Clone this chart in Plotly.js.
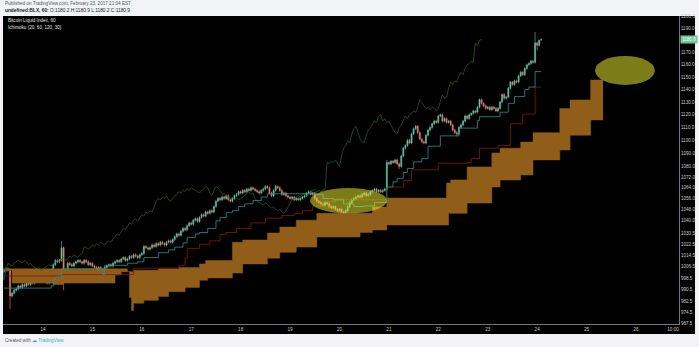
<!DOCTYPE html>
<html><head><meta charset="utf-8">
<script src="https://cdn.plot.ly/plotly-3.0.1.min.js"></script>
<style>html,body{margin:0;padding:0;background:#f1f3f6;overflow:hidden}#chart{width:699px;height:347px}</style>
</head><body><div id="chart"></div>
<script>
// time axis: hours since 2017-02-13 00:00, hourly candles (BLX, 60)
const firstHour = 5;
const opens = [
1003,1004,1005,1004,986,988,990,991,993,992,
994,993,995,994,996,995,997,998,996,999,
998,996,995,997,999,1008,1011,1010,1011,1020,
997,1004,1009,1008,1007,1009,1010,1011,1010,1009,
1011,1010,1008,1009,1007,1006,1005,1006,1004,1005,
1006,1007,1008,1007,1009,1010,1011,1010,1012,1013,
1011,1012,1014,1013,1015,1014,1013,1015,1016,1021,
1020,1019,1020,1022,1021,1023,1022,1024,1023,1022,
1024,1025,1024,1026,1028,1030,1029,1032,1034,1033,
1036,1038,1037,1040,1041,1039,1042,1044,1043,1046,
1045,1047,1046,1050,1054,1056,1055,1057,1056,1058,
1055,1054,1056,1058,1059,1061,1060,1062,1061,1063,
1062,1064,1063,1062,1061,1060,1062,1063,1065,1064,
1060,1058,1062,1065,1064,1062,1059,1060,1058,1057,
1056,1057,1055,1056,1055,1056,1057,1058,1060,1061,
1059,1060,1056,1054,1053,1052,1051,1053,1052,1050,
1049,1050,1048,1047,1048,1046,1045,1047,1050,1053,
1055,1056,1057,1058,1057,1059,1060,1058,1059,1061,
1062,1063,1061,1062,1061,1062,1063,1083,1082,1084,
1083,1085,1082,1080,1088,1094,1096,1100,1098,1105,
1109,1111,1106,1101,1099,1098,1104,1108,1110,1113,
1115,1114,1119,1120,1115,1117,1114,1115,1112,1108,
1106,1105,1110,1112,1115,1119,1117,1120,1121,1123,
1122,1126,1132,1129,1127,1125,1126,1124,1126,1125,
1123,1125,1130,1136,1133,1134,1141,1146,1144,1147,
1146,1151,1154,1152,1157,1160,1161,1163,1162,1178,
1176,1180.2];
const highs = [
1005,1006,1006,1005,989,991,992,994,994,995,
995,996,996,997,997,998,999,999,1000,1000,
999,997,998,1000,1009,1012,1012,1012,1025,1021,
1005,1010,1010,1009,1010,1011,1012,1012,1011,1012,
1012,1011,1010,1010,1008,1007,1007,1007,1006,1007,
1008,1009,1009,1010,1011,1012,1012,1013,1014,1014,
1013,1015,1015,1016,1016,1015,1016,1017,1022,1022,
1021,1021,1023,1023,1024,1024,1025,1025,1024,1025,
1026,1026,1027,1029,1031,1031,1033,1035,1035,1037,
1039,1039,1041,1042,1042,1043,1045,1045,1047,1047,
1048,1048,1051,1055,1057,1057,1058,1058,1059,1059,
1056,1057,1059,1060,1062,1062,1063,1063,1064,1064,
1065,1065,1064,1063,1062,1063,1064,1066,1066,1065,
1061,1063,1066,1066,1065,1063,1061,1061,1059,1058,
1058,1058,1057,1057,1057,1058,1059,1061,1062,1062,
1061,1061,1057,1055,1054,1053,1054,1054,1053,1051,
1051,1051,1049,1049,1049,1047,1048,1051,1054,1056,
1057,1058,1059,1059,1060,1061,1061,1060,1062,1063,
1064,1064,1063,1063,1063,1064,1085,1084,1085,1085,
1086,1086,1083,1089,1095,1097,1101,1101,1106,1110,
1112,1112,1107,1102,1100,1105,1109,1111,1114,1116,
1116,1120,1121,1121,1118,1118,1116,1116,1113,1109,
1107,1111,1113,1116,1120,1120,1121,1122,1124,1124,
1127,1133,1133,1130,1128,1127,1127,1127,1127,1126,
1126,1131,1137,1137,1135,1142,1147,1147,1148,1148,
1152,1155,1155,1158,1161,1162,1164,1164,1187,1179,
1180.5,1180.9];
const lows = [
1002,1003,1003,977,985,987,989,990,991,991,
992,992,993,993,994,994,996,995,995,997,
995,994,994,996,998,1007,1009,1009,1010,990,
996,1003,1007,1006,1006,1008,1009,1009,1008,1008,
1009,1007,1007,1006,1005,1004,1004,1003,1003,1004,
1005,1006,1006,1006,1008,1009,1009,1009,1011,1010,
1010,1011,1012,1012,1013,1012,1012,1014,1015,1019,
1018,1018,1019,1020,1020,1021,1021,1022,1021,1021,
1023,1023,1023,1025,1027,1028,1028,1031,1032,1032,
1035,1036,1036,1039,1038,1038,1041,1042,1042,1044,
1044,1045,1045,1049,1053,1054,1054,1055,1055,1054,
1053,1053,1055,1057,1058,1059,1059,1060,1060,1061,
1061,1062,1061,1060,1059,1059,1061,1062,1063,1059,
1057,1057,1061,1063,1061,1058,1058,1057,1056,1055,
1055,1054,1054,1054,1054,1055,1056,1057,1059,1058,
1058,1055,1053,1052,1051,1050,1050,1051,1049,1048,
1048,1047,1046,1046,1045,1044,1044,1046,1049,1052,
1054,1055,1056,1056,1056,1058,1057,1057,1058,1060,
1061,1060,1060,1060,1060,1061,1062,1081,1081,1082,
1082,1081,1078,1079,1087,1093,1095,1097,1097,1104,
1108,1105,1100,1098,1097,1097,1103,1107,1109,1112,
1113,1113,1118,1114,1114,1113,1113,1111,1107,1105,
1103,1104,1109,1111,1114,1116,1116,1119,1120,1121,
1121,1125,1128,1126,1124,1124,1123,1123,1124,1122,
1122,1124,1129,1132,1132,1133,1140,1143,1143,1145,
1145,1150,1151,1151,1156,1159,1160,1161,1161,1172,
1175,1180.2];
const closes = [
1004,1005,1004,986,988,990,991,993,992,994,
993,995,994,996,995,997,998,996,999,998,
996,995,997,999,1008,1011,1010,1011,1020,997,
1004,1009,1008,1007,1009,1010,1011,1010,1009,1011,
1010,1008,1009,1007,1006,1005,1006,1004,1005,1006,
1007,1008,1007,1009,1010,1011,1010,1012,1013,1011,
1012,1014,1013,1015,1014,1013,1015,1016,1021,1020,
1019,1020,1022,1021,1023,1022,1024,1023,1022,1024,
1025,1024,1026,1028,1030,1029,1032,1034,1033,1036,
1038,1037,1040,1041,1039,1042,1044,1043,1046,1045,
1047,1046,1050,1054,1056,1055,1057,1056,1058,1055,
1054,1056,1058,1059,1061,1060,1062,1061,1063,1062,
1064,1063,1062,1061,1060,1062,1063,1065,1064,1060,
1058,1062,1065,1064,1062,1059,1060,1058,1057,1056,
1057,1055,1056,1055,1056,1057,1058,1060,1061,1059,
1060,1056,1054,1053,1052,1051,1053,1052,1050,1049,
1050,1048,1047,1048,1046,1045,1047,1050,1053,1055,
1056,1057,1058,1057,1059,1060,1058,1059,1061,1062,
1063,1061,1062,1061,1062,1063,1083,1082,1084,1083,
1085,1082,1080,1088,1094,1096,1100,1098,1105,1109,
1111,1106,1101,1099,1098,1104,1108,1110,1113,1115,
1114,1119,1120,1115,1117,1114,1115,1112,1108,1106,
1105,1110,1112,1115,1119,1117,1120,1121,1123,1122,
1126,1132,1129,1127,1125,1126,1124,1126,1125,1123,
1125,1130,1136,1133,1134,1141,1146,1144,1147,1146,
1151,1154,1152,1157,1160,1161,1163,1162,1178,1176,
1180.2,1180.9];

// Ichimoku (20, 60, 120, 30) lines, read as step breakpoints (hour, price)
const tenkanHours  = [5,28,29,30,33,53,54,65,70,73,80,85,88,92,94,98,100,104,108,110,113,116,119,122,126,130,133,155,157,160,165,170,175,180,185,191,194,196,199,201,204,208,211,217,226,235,236,246,250,253,258,260,263,266];
const tenkanValues = [991.5,993,997.5,999,1005,1001,1007.5,1009,1010,1013,1016.5,1018.5,1020.5,1023.5,1027.5,1030,1031,1034,1039.5,1042,1045.5,1047,1050,1052,1054.5,1057,1059.5,1060,1059,1056,1055,1052,1050,1050.5,1053,1064.5,1068.5,1071,1075.5,1078.5,1083.5,1086,1095.5,1103.5,1109.5,1115.5,1118.5,1122,1129,1134.5,1140,1142,1154.5,1154.5];
const kijunHours  = [5,33,68,90,93,94,100,105,110,113,118,125,132,140,146,150,155,160,166,170,191,199,203,216,230,232,236,245,251,257,263,266];
const kijunValues = [1000,1001,1005.5,1007.5,1012.5,1019.5,1022.5,1025,1029.5,1031,1034,1038,1041.5,1043.5,1045,1047,1050.5,1053.5,1055.5,1055,1064.5,1069.5,1077.5,1082.5,1083,1086,1094,1096,1113,1120.5,1142,1142];
const spanAHours  = [4,65,68,80,90,100,103,116,121,133,139,147,157,184,191,220,222,230,242,246,256,262,275,280,290,296];
const spanAValues = [1005,1003,1004,1005,1006,1008.5,1011,1024,1025.6,1030.7,1035,1040,1045,1049.7,1056.3,1067.5,1069.8,1079.7,1090.3,1094,1098.7,1106,1125,1131.7,1147.7,1147.7];
const spanBHours  = [4,9,29,34,59,62,65,66,67,68,73,80,85,93,100,104,116,121,133,139,147,157,178,184,191,221,230,242,246,256,262,275,280,290,296];
const spanBValues = [1004,995,994,995,1000.7,1003,1003,985,976,981,983,985.6,989,992,997,998.6,1002,1008.5,1012.6,1016.8,1020.5,1027.8,1031,1032.9,1036.5,1045,1052.6,1064.5,1069.8,1073.6,1085,1092.6,1104,1115.9,1115.9];
const laggingShift = 29;

// axes
const dayTickHours = [24,48,72,96,120,144,168,192,216,240,264,288,312,330];
const dayTickLabels = ['14','15','16','17','18','19','20','21','22','23','24','25','26','10:00'];
const priceTicks = [1200,1190,1170,1160,1150,1140,1130,1120,1110,1100,1090,1080,1072,1064,1056,1048,1040,1030.5,1022.5,1014.5,1006.5,998.5,990.5,982.5,974.5,967.5];
const lastPrice = 1180.9;
const priceRange = [966.8, 1200.5];

// highlight ellipses drawn on the chart (hours, prices)
const ellipses = [
  {h0:153.7, h1:191.1, p0:1045.0, p1:1063.8},
  {h0:292.1, h1:321.2, p0:1143.7, p1:1167.3}
];

const candleHours = closes.map((_, i) => firstHour + i);
const lagHours = candleHours.map(h => h - laggingShift);
const cloudColor = '#915e1a';
const yLo = Math.log10(priceRange[0]), yHi = Math.log10(priceRange[1]);
const priceToPaper = p => (Math.log10(p) - yLo) / (yHi - yLo);

const traces = [
  {type:'scatter', mode:'lines', x:spanBHours, y:spanBValues, line:{color:cloudColor, width:0.5, shape:'hv'}, hoverinfo:'skip'},
  {type:'scatter', mode:'lines', x:spanAHours, y:spanAValues, line:{color:cloudColor, width:0.5, shape:'hv'}, fill:'tonexty', fillcolor:cloudColor, hoverinfo:'skip'},
  {type:'scatter', mode:'lines', x:lagHours, y:closes, line:{color:'#2b5530', width:0.8}, hoverinfo:'skip'},
  {type:'scatter', mode:'lines', x:kijunHours, y:kijunValues, line:{color:'#861818', width:0.8, shape:'hv'}, hoverinfo:'skip'},
  {type:'scatter', mode:'lines', x:tenkanHours, y:tenkanValues, line:{color:'#2a938a', width:0.8, shape:'hv'}, hoverinfo:'skip'},
  {type:'candlestick', x:candleHours, open:opens, high:highs, low:lows, close:closes,
   increasing:{line:{color:'#62c9b1', width:0.6}, fillcolor:'#62c9b1'},
   decreasing:{line:{color:'#ef7d72', width:0.6}, fillcolor:'#ef7d72'},
   whiskerwidth:0, hoverinfo:'skip'}
];

const fontFam = 'Liberation Sans, Arial, sans-serif';
const shapes = [
  {type:'rect', xref:'paper', yref:'paper', x0:0, x1:1.0237, y0:-0.0325, y1:1, fillcolor:'#000', line:{width:0}, layer:'below'}
].concat(ellipses.map(e => ({
  type:'circle', xref:'x', yref:'paper', x0:e.h0, x1:e.h1, y0:priceToPaper(e.p0), y1:priceToPaper(e.p1),
  fillcolor:'rgba(225,225,45,0.55)', line:{width:0}, layer:'above'
})));

const annotations = [
  {xref:'paper', yref:'paper', x:0, y:1.039, xanchor:'left', yanchor:'middle', showarrow:false,
   text:'Published on TradingView.com, February 23, 2017 21:04 EST', font:{family:fontFam, size:4.6, color:'#555'}},
  {xref:'paper', yref:'paper', x:0, y:1.0165, xanchor:'left', yanchor:'middle', showarrow:false,
   text:'<b>undefined:BLX, 60:</b> O:1180.2 H:1180.9 L:1180.2 C:1180.9', font:{family:fontFam, size:4.8, color:'#222'}},
  {xref:'paper', yref:'paper', x:0.0044, y:0.987, xanchor:'left', yanchor:'middle', showarrow:false,
   text:'Bitcoin Liquid Index, 60', font:{family:fontFam, size:4.6, color:'#e0e0e0'}},
  {xref:'paper', yref:'paper', x:0.0044, y:0.964, xanchor:'left', yanchor:'middle', showarrow:false,
   text:'Ichimoku (20, 60, 120, 30)', font:{family:fontFam, size:4.6, color:'#e0e0e0'}},
  {xref:'paper', yref:'paper', x:0, y:-0.055, xanchor:'left', yanchor:'middle', showarrow:false,
   text:'Created with <span style="color:#3aa8e0">☁ TradingView</span>', font:{family:fontFam, size:4.6, color:'#555'}},
  {xref:'paper', yref:'paper', x:1, y:priceToPaper(lastPrice), xanchor:'left', yanchor:'middle', showarrow:false, xshift:1,
   text:lastPrice.toFixed(1), bgcolor:'#6cc79a', borderpad:1, font:{family:fontFam, size:4.6, color:'#fff'}}
];

const layout = {
  width:699, height:347,
  margin:{l:3, r:20, t:16, b:23, pad:0},
  paper_bgcolor:'#f1f3f6', plot_bgcolor:'#000',
  showlegend:false,
  font:{family:fontFam},
  xaxis:{type:'linear', range:[4.575, 332.9], tickmode:'array', tickvals:dayTickHours, ticktext:dayTickLabels,
         showgrid:false, zeroline:false, showline:true, linecolor:'#777', linewidth:1,
         tickfont:{size:4.6, color:'#c8c8c8', family:fontFam}, rangeslider:{visible:false}, fixedrange:true},
  yaxis:{type:'log', side:'right', range:[yLo, yHi], tickmode:'array',
         tickvals:priceTicks, ticktext:priceTicks.map(v => v.toFixed(1)),
         showgrid:false, zeroline:false, showline:true, linecolor:'#777', linewidth:1,
         tickfont:{size:4.6, color:'#c8c8c8', family:fontFam}, fixedrange:true},
  shapes:shapes,
  annotations:annotations
};

Plotly.newPlot('chart', traces, layout, {displayModeBar:false, staticPlot:true});
</script>
</body></html>
